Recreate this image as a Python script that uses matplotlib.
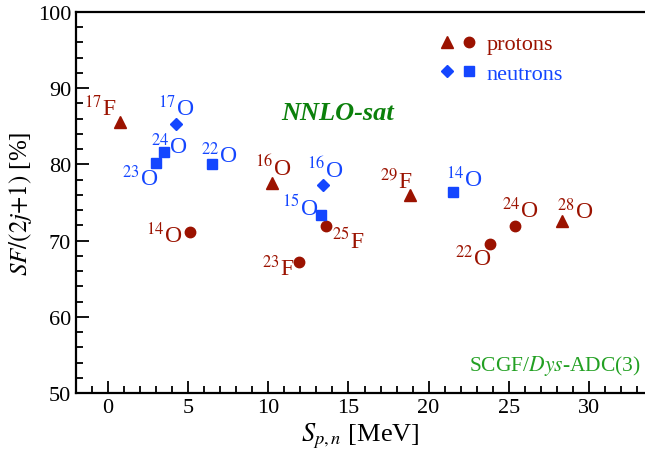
import matplotlib
matplotlib.use("Agg")
import matplotlib.pyplot as plt
from matplotlib.legend_handler import HandlerTuple
from matplotlib.ticker import MultipleLocator

plt.rcParams['font.family'] = ['Liberation Serif', 'DejaVu Serif']
plt.rcParams['mathtext.fontset'] = 'stix'

# ---- data (S_{p,n} [MeV], SF/(2j+1) [%]) ----
# protons, triangles
prot_tri_elem = ["F", "O", "F", "O"]
prot_tri_A = ["17", "16", "29", "28"]
prot_tri_x = [0.75, 10.23, 18.84, 28.3]
prot_tri_y = [85.6, 77.6, 76.0, 72.6]
# protons, circles
prot_circ_A = ["14", "23", "25", "22", "24"]
prot_circ_elem = ["O", "F", "F", "O", "O"]
prot_circ_x = [5.1, 11.9, 13.6, 23.8, 25.4]
prot_circ_y = [71.1, 67.2, 71.9, 69.55, 71.9]
# neutrons, diamonds
neut_dia_A = ["17", "16"]
neut_dia_elem = ["O", "O"]
neut_dia_x = [4.24, 13.41]
neut_dia_y = [85.3, 77.3]
# neutrons, squares
neut_sq_A = ["23", "24", "22", "15", "14"]
neut_sq_elem = ["O", "O", "O", "O", "O"]
neut_sq_x = [3.0, 3.49, 6.49, 13.29, 21.5]
neut_sq_y = [80.2, 81.6, 80.05, 73.4, 76.4]

# label offsets (pixels, layout only)
prot_tri_off = [(-20, 14), (1, 15), (-14, 14), (13, 10)]
prot_circ_off = [(-26, -2), (-21, -5), (22, -13), (-16, -13), (5, 17)]
neut_dia_off = [(0, 17), (2, 16)]
neut_sq_off = [(-16, -15), (5, 7), (7, 10), (-21, 8), (11, 13)]

RED = '#9b1200'
BLUE = '#1446ff'

fig = plt.figure(figsize=(6.45, 4.60), dpi=100)
ax = fig.add_axes([76/645, 66/460, 1 - 76/645, 381/460])

ht, = ax.plot(prot_tri_x, prot_tri_y, ls='none', marker='^', ms=9, color=RED, mec=RED)
hc, = ax.plot(prot_circ_x, prot_circ_y, ls='none', marker='o', ms=7.5, color=RED, mec=RED)
hd, = ax.plot(neut_dia_x, neut_dia_y, ls='none', marker='D', ms=6, color=BLUE, mec=BLUE)
hs, = ax.plot(neut_sq_x, neut_sq_y, ls='none', marker='s', ms=7, color=BLUE, mec=BLUE)

def label(xs, ys, As, els, offs, color):
    for x, y, a, e, o in zip(xs, ys, As, els, offs):
        ax.annotate(r"$^{%s}$%s" % (a, e), (x, y), xytext=o, textcoords='offset pixels',
                    ha='center', va='center', color=color, fontsize=17)

label(prot_tri_x, prot_tri_y, prot_tri_A, prot_tri_elem, prot_tri_off, RED)
label(prot_circ_x, prot_circ_y, prot_circ_A, prot_circ_elem, prot_circ_off, RED)
label(neut_dia_x, neut_dia_y, neut_dia_A, neut_dia_elem, neut_dia_off, BLUE)
label(neut_sq_x, neut_sq_y, neut_sq_A, neut_sq_elem, neut_sq_off, BLUE)

ax.set_xlim(-2, 33.5)
ax.set_ylim(50, 100)
ax.xaxis.set_major_locator(MultipleLocator(5))
ax.xaxis.set_minor_locator(MultipleLocator(1))
ax.yaxis.set_major_locator(MultipleLocator(10))
ax.yaxis.set_minor_locator(MultipleLocator(2))
ax.tick_params(which='both', direction='in', top=False, right=False, labelsize=16, width=1.3)
ax.tick_params(which='major', length=9)
ax.tick_params(which='minor', length=5)
for s in ['left', 'bottom', 'top']:
    ax.spines[s].set_linewidth(1.6)
ax.spines['right'].set_visible(False)

ax.set_xlabel(r"$S_{p,n}$ [MeV]", fontsize=19, labelpad=3)
ax.set_ylabel(r"$\mathit{SF/(2j{+}1)}$ [%]", fontsize=18, labelpad=3)

fig.text(338/645, 1 - 114/460, "NNLO-sat", fontsize=19, fontweight='bold',
         fontstyle='italic', color='#0b800b', ha='center', va='center')
ax.text(0.993, 0.073, r"SCGF/$\mathit{Dys}$-ADC(3)", transform=ax.transAxes, fontsize=15.5,
        color='#22a022', ha='right', va='center')

leg = ax.legend([(ht, hc), (hd, hs)], ['protons', 'neutrons'],
                handler_map={tuple: HandlerTuple(ndivide=None, pad=0.3)},
                loc='upper left', bbox_to_anchor=(0.605, 0.995), frameon=False,
                fontsize=16, handlelength=1.6, handletextpad=0.5, labelspacing=0.4)
for t, c in zip(leg.get_texts(), [RED, BLUE]):
    t.set_color(c)

fig.savefig('out.png', dpi=100)
